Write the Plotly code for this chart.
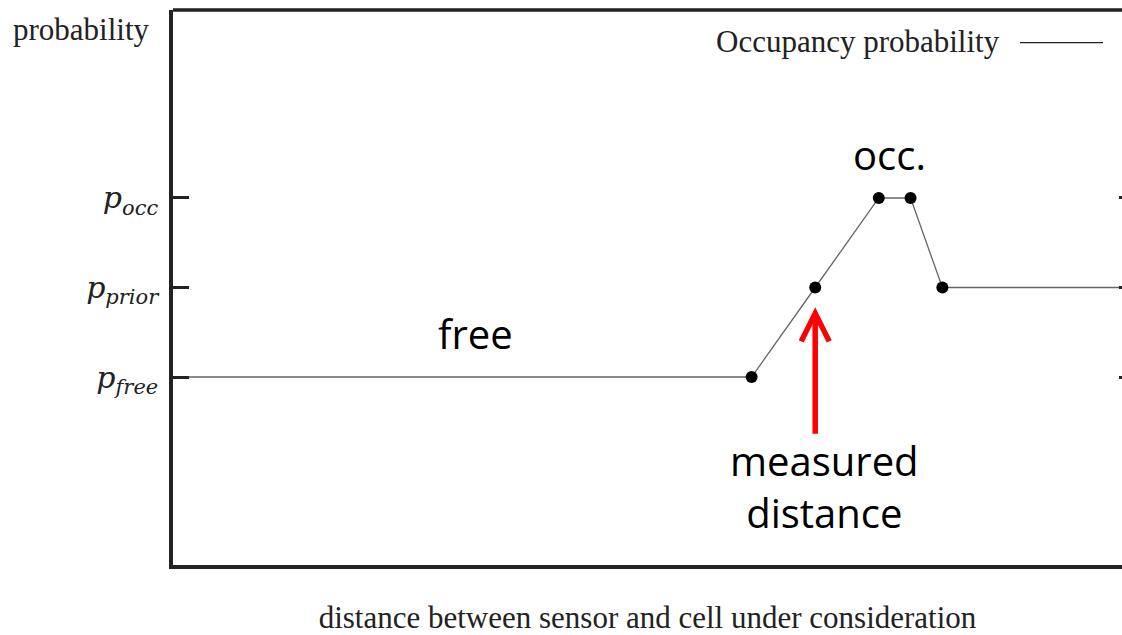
import plotly.graph_objects as go

# ---- data ----
distance = [0, 18.2, 20.2, 22.2, 23.2, 24.2, 30]
prob_level = [1, 1, 2, 3, 3, 2, 2]          # 1 = p_free, 2 = p_prior, 3 = p_occ
marker_on = [0, 1, 1, 1, 1, 1, 0]
tick_vals = [1, 2, 3]
tick_text = ["<i>p<sub>free</sub></i>", "<i>p<sub>prior</sub></i>", "<i>p<sub>occ</sub></i>"]
measured_distance = 20.2
series_name = "Occupancy probability"
x_title = "distance between sensor and cell under consideration"
y_title = "probability"

INK = "#222222"
SERIF = "Liberation Serif, Times New Roman, serif"
SANS = "Open Sans, Noto Sans, sans-serif"

fig = go.Figure()
fig.add_trace(go.Scatter(
    x=distance, y=prob_level, mode="lines+markers", name=series_name,
    line=dict(color="#666666", width=1.3),
    marker=dict(color="#000000", opacity=1, size=[12 * m for m in marker_on], line=dict(width=0)),
    showlegend=False, hoverinfo="skip",
))
# invisible trace to anchor the right-hand axis
fig.add_trace(go.Scatter(x=distance, y=prob_level, yaxis="y2", mode="lines",
                         line=dict(width=0), opacity=0, showlegend=False, hoverinfo="skip"))

fig.update_layout(
    width=1122, height=635,
    margin=dict(l=173, r=0, t=10, b=70),
    plot_bgcolor="white", paper_bgcolor="white",
    xaxis=dict(range=[0, 29.85], showgrid=False, zeroline=False, showticklabels=False,
               ticks="", showline=True, linewidth=3.5, linecolor=INK,
               title=dict(text=x_title, font=dict(family=SERIF, size=31, color=INK), standoff=43)),
    yaxis=dict(range=[-1.1, 5.1], showgrid=False, zeroline=False,
               tickvals=tick_vals, ticktext=tick_text, ticks="inside", ticklen=16, tickwidth=3,
               tickcolor=INK, showline=True, linewidth=3.5, linecolor=INK,
               tickfont=dict(family="DejaVu Serif, serif", size=30, color=INK),
               ticklabelstandoff=5),
    yaxis2=dict(range=[-1.1, 5.1], overlaying="y", side="right", showgrid=False, zeroline=False,
                tickvals=tick_vals, showticklabels=False, ticks="inside", ticklen=3, tickwidth=3,
                tickcolor=INK, showline=False),
)

# top border
fig.add_shape(type="line", xref="paper", yref="paper", x0=0, x1=1, y0=1, y1=1,
              line=dict(color=INK, width=3.5))
# legend sample line (gnuplot-style key: text then line)
fig.add_shape(type="line", xref="paper", yref="paper", x0=0.8925, x1=0.98, y0=0.9412, y1=0.9412,
              line=dict(color=INK, width=1.2))
fig.add_annotation(xref="paper", yref="paper", x=0.8736, y=0.944, xanchor="right", yanchor="middle",
                   text=series_name, showarrow=False, font=dict(family=SERIF, size=31, color=INK))
# y title at top-left
fig.add_annotation(xref="paper", yref="paper", x=-0.0959, y=0.964, xanchor="center", yanchor="middle",
                   text=y_title, showarrow=False, font=dict(family=SERIF, size=31, color=INK))

# text annotations
fig.add_annotation(x=22.55, y=3.49, text="occ.", showarrow=False,
                   font=dict(family=SANS, size=40, color="black"))
fig.add_annotation(x=9.5, y=1.49, text="free", showarrow=False,
                   font=dict(family=SANS, size=40, color="black"))
fig.add_annotation(x=20.5, y=-0.218, text="measured<br>distance", showarrow=False,
                   font=dict(family=SANS, size=40, color="black"))
# red arrow pointing at measured distance
fig.add_annotation(x=measured_distance, y=1.78, ax=measured_distance, ay=0.35,
                   axref="x", ayref="y", text="", showarrow=True,
                   arrowhead=5, arrowsize=1.0, arrowwidth=5.5, arrowcolor="#ff0000")

# remove the browser's default 8px page margin so the figure fills the window
fig.write_html("out.html", config={"displayModeBar": False},
               post_script="document.body.style.margin='0';document.body.style.overflow='hidden';")
